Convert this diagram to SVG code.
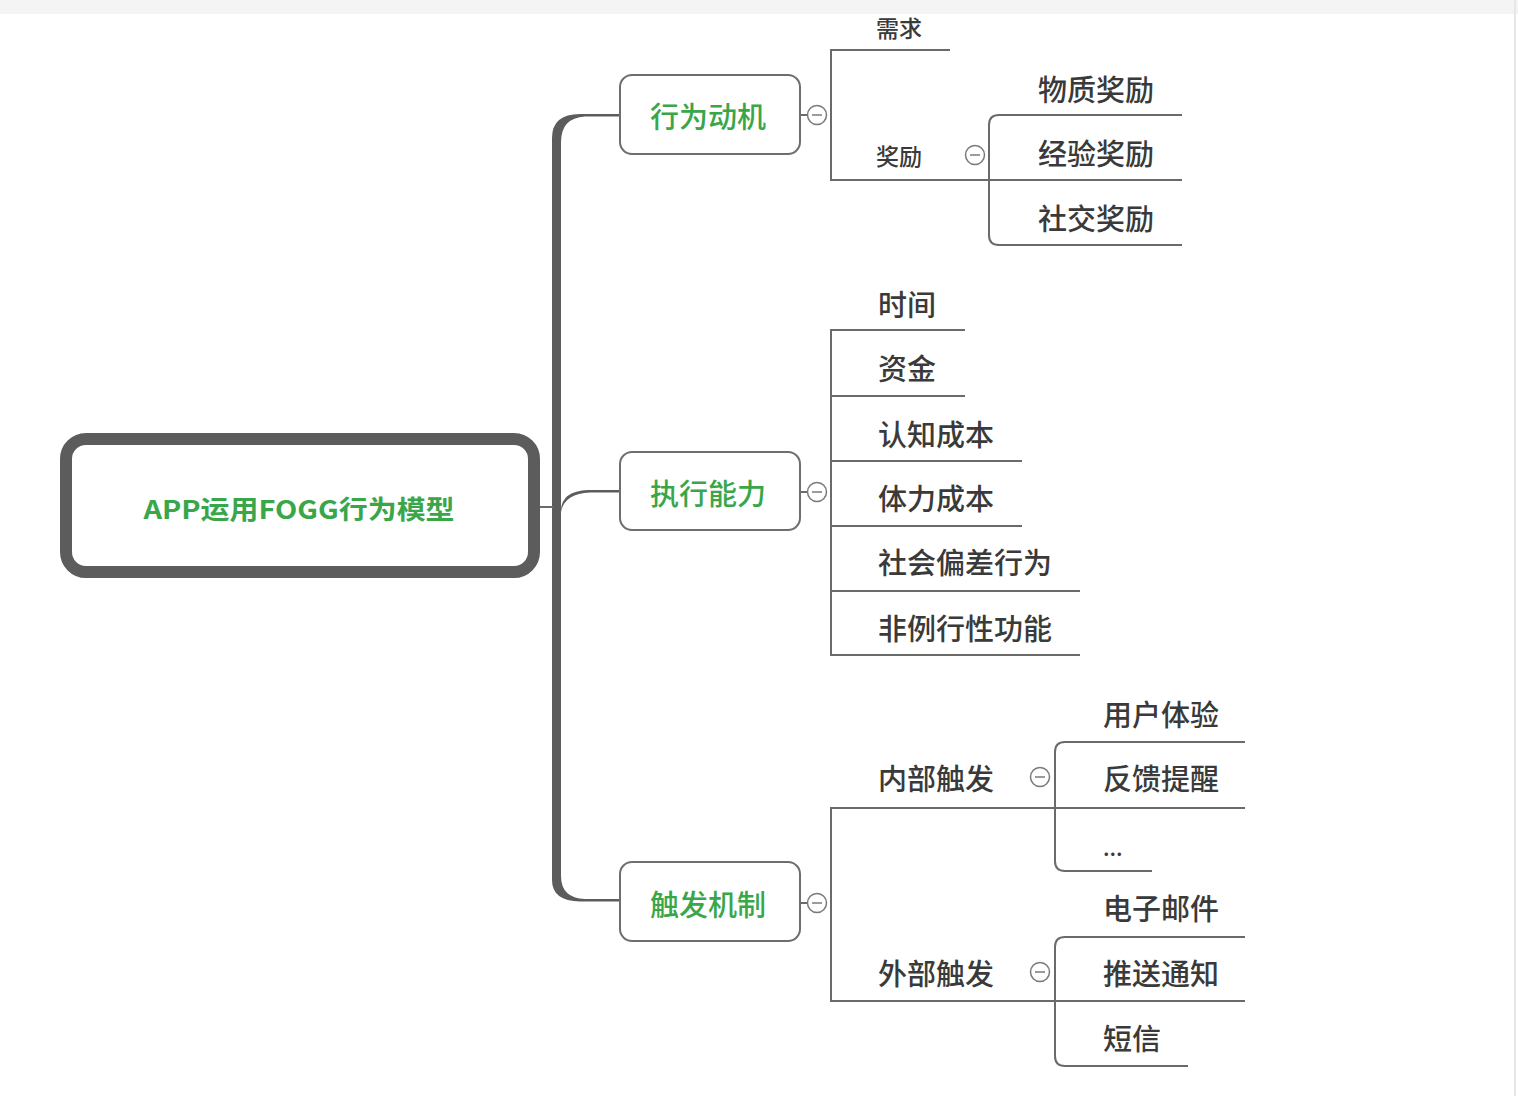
<svg xmlns="http://www.w3.org/2000/svg" width="1518" height="1096" viewBox="0 0 1518 1096">
<style>
.t{font-family:"Noto Sans CJK SC","Noto Sans",sans-serif;fill:#3a3a3a;font-size:29px;font-weight:500;dominant-baseline:central}
.ts{font-size:23px}
.g{font-family:"Noto Sans CJK SC","Noto Sans",sans-serif;fill:#3aa64a;font-size:29px;font-weight:500;text-anchor:middle;dominant-baseline:central}
.gr{font-weight:bold;font-size:26px}
.box{fill:#fff;stroke:#6e6e6e;stroke-width:2}
.ln{fill:none;stroke:#6a6a6a;stroke-width:2}
.cc{fill:#fff;stroke:#7a7a7a;stroke-width:1.5}
.mn{stroke:#7a7a7a;stroke-width:1.5}
</style>
<rect x="0" y="0" width="1518" height="1096" fill="#fff"/>
<rect x="0" y="0" width="1518" height="14" fill="#f4f4f4"/>
<line x1="1515" y1="0" x2="1515" y2="1096" stroke="#e6e6e6" stroke-width="2"/>
<g id="connectors">
<path d="M552 895 L552 138 Q552 114 580 114 L620 114 L620 116.5 L585 116.5 Q561 118 561 142 L561 876 Q561 898 585 899 L620 899 L620 901.5 L580 901.5 Q552 901 552 880 Z" fill="#5c5c5c"/>
<path d="M561 510 Q562 491 588 490 L620 490 L620 492.5 L590 492.5 Q564 494 561 512 Z" fill="#5c5c5c"/>
<line x1="540" y1="507" x2="553" y2="507" stroke="#6a6a6a" stroke-width="2"/>
<path class="ln" d="M950 50 L831 50 L831 180 L1182 180"/>
<path class="ln" d="M1182 115 L999 115 Q989 115 989 125 L989 235 Q989 245 999 245 L1182 245"/>
<path class="ln" d="M965 330 L831 330 L831 655 L1080 655"/>
<path class="ln" d="M831 396 L965 396 M831 461 L1022 461 M831 526 L1022 526 M831 591 L1080 591"/>
<path class="ln" d="M1245 808 L831 808 L831 1001 L1245 1001"/>
<path class="ln" d="M1245 742 L1065 742 Q1055 742 1055 752 L1055 861 Q1055 871 1065 871 L1152 871"/>
<path class="ln" d="M1245 937 L1065 937 Q1055 937 1055 947 L1055 1056 Q1055 1066 1065 1066 L1188 1066"/>
<line x1="800" y1="115" x2="808" y2="115" class="ln"/>
<line x1="800" y1="492" x2="808" y2="492" class="ln"/>
<line x1="800" y1="903" x2="808" y2="903" class="ln"/>
</g>
<g id="root">
<rect x="66" y="439" width="468" height="133" rx="20" fill="#fff" stroke="#5c5c5c" stroke-width="12"/>
<text x="299" y="507" class="g gr" textLength="311" lengthAdjust="spacingAndGlyphs">APP运用FOGG行为模型</text>
</g>
<g id="n-motive">
<rect class="box" x="620" y="75" width="180" height="79" rx="12"/>
<text class="g" x="708" y="115">行为动机</text>
<circle class="cc" cx="817" cy="115" r="9.5"/><line class="mn" x1="812" y1="115" x2="822" y2="115"/>
</g>
<g id="n-ability">
<rect class="box" x="620" y="452" width="180" height="78" rx="12"/>
<text class="g" x="708" y="492">执行能力</text>
<circle class="cc" cx="817" cy="492" r="9.5"/><line class="mn" x1="812" y1="492" x2="822" y2="492"/>
</g>
<g id="n-trigger">
<rect class="box" x="620" y="862" width="180" height="79" rx="12"/>
<text class="g" x="708" y="903">触发机制</text>
<circle class="cc" cx="817" cy="903" r="9.5"/><line class="mn" x1="812" y1="903" x2="822" y2="903"/>
</g>
<g id="n-need"><text class="t ts" x="876" y="27">需求</text></g>
<g id="n-reward"><text class="t ts" x="876" y="155">奖励</text>
<circle class="cc" cx="975" cy="155" r="9.5"/><line class="mn" x1="970" y1="155" x2="980" y2="155"/></g>
<g id="n-r1"><text class="t" x="1038" y="88">物质奖励</text></g>
<g id="n-r2"><text class="t" x="1038" y="152">经验奖励</text></g>
<g id="n-r3"><text class="t" x="1038" y="217">社交奖励</text></g>
<g id="n-a1"><text class="t" x="878" y="303">时间</text></g>
<g id="n-a2"><text class="t" x="878" y="367">资金</text></g>
<g id="n-a3"><text class="t" x="878" y="433">认知成本</text></g>
<g id="n-a4"><text class="t" x="878" y="497">体力成本</text></g>
<g id="n-a5"><text class="t" x="878" y="561">社会偏差行为</text></g>
<g id="n-a6"><text class="t" x="878" y="627">非例行性功能</text></g>
<g id="n-internal"><text class="t" x="878" y="777">内部触发</text>
<circle class="cc" cx="1040" cy="777" r="9.5"/><line class="mn" x1="1035" y1="777" x2="1045" y2="777"/></g>
<g id="n-external"><text class="t" x="878" y="972">外部触发</text>
<circle class="cc" cx="1040" cy="972" r="9.5"/><line class="mn" x1="1035" y1="972" x2="1045" y2="972"/></g>
<g id="n-i1"><text class="t" x="1103" y="713">用户体验</text></g>
<g id="n-i2"><text class="t" x="1103" y="777">反馈提醒</text></g>
<g id="n-i3"><text class="t" x="1103" y="846" style="font-size:22px">...</text></g>
<g id="n-e1"><text class="t" x="1103" y="907">电子邮件</text></g>
<g id="n-e2"><text class="t" x="1103" y="972">推送通知</text></g>
<g id="n-e3"><text class="t" x="1103" y="1037">短信</text></g>
</svg>
